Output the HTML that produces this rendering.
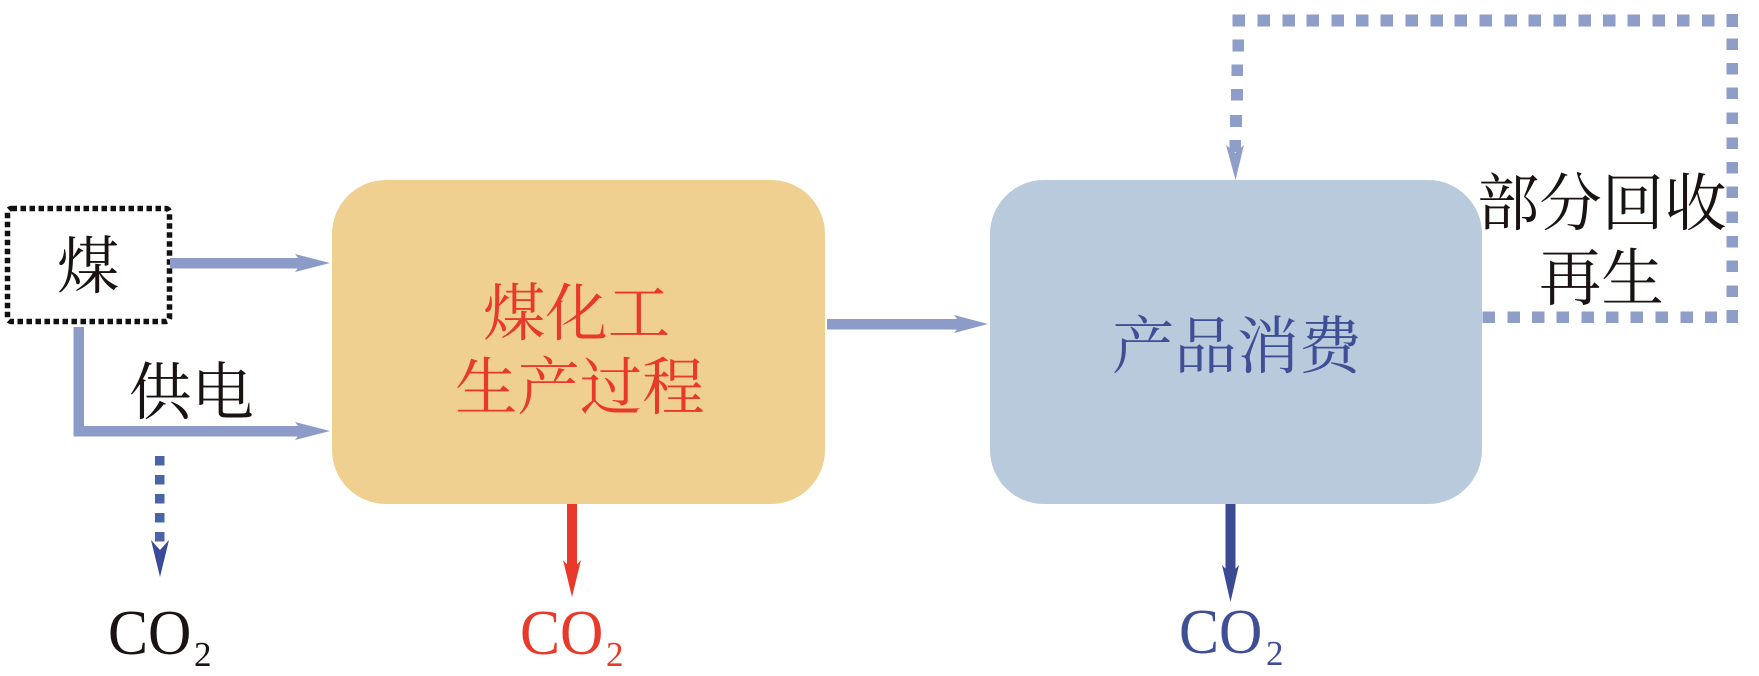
<!DOCTYPE html>
<html><head><meta charset="utf-8">
<style>
html,body{margin:0;padding:0;background:#fff;width:1759px;height:676px;overflow:hidden}
svg{display:block}
.c{font-family:"Liberation Serif","Noto Serif CJK SC",serif;font-size:62.4px}
.l{font-family:"Liberation Serif",serif;font-size:60px}
.s{font-family:"Liberation Serif",serif;font-size:35px}
</style></head><body>
<svg width="1759" height="676" viewBox="0 0 1759 676" xmlns="http://www.w3.org/2000/svg">
<rect width="1759" height="676" fill="#fff"/>
<!-- boxes -->
<rect x="332" y="180" width="493" height="324" rx="54" ry="54" fill="#efd091"/>
<rect x="990" y="180" width="492" height="324" rx="54" ry="54" fill="#b9cadd"/>
<!-- coal box -->
<rect x="7.5" y="208.5" width="162" height="113" rx="4" fill="none" stroke="#111" stroke-width="5.5" stroke-dasharray="5.5 3.5"/>
<!-- solid pale arrows -->
<g fill="#8c9bc8">
<rect x="170" y="258" width="132" height="10.5"/>
<polygon points="330,263 295,254 302,263 295,272"/>
<path d="M73.5 327H84V426H302V436.5H73.5Z"/>
<polygon points="330,431 295,422 302,431 295,440"/>
<rect x="827" y="319" width="135" height="10.5"/>
<polygon points="988,324 954,315 961,324 954,333"/>
</g>
<!-- dashed CO2 -->
<g fill="#4a64a8">
<rect x="155" y="456" width="9.5" height="9.5"/>
<rect x="155" y="475" width="9.5" height="9.5"/>
<rect x="155" y="494" width="9.5" height="9.5"/>
<rect x="155" y="513" width="9.5" height="9.5"/>
<rect x="155" y="532" width="9.5" height="9.5"/>
</g>
<polygon points="160,577 151,540 160,550 169,540" fill="#3c4a9a"/>
<!-- red + blue down arrows -->
<rect x="567" y="504" width="10" height="70" fill="#e8392b"/>
<polygon points="572,597 563,560 572,570 581,560" fill="#e8392b"/>
<rect x="1225.5" y="504" width="10" height="74" fill="#3c4a94"/>
<polygon points="1230.5,602 1222,565 1230.5,574 1239,565" fill="#3c4a94"/>
<!-- recycle dashed -->
<g fill="#8f9dc9">
<rect x="1232.5" y="14.500" width="12.500" height="12"/><rect x="1257.5" y="14.500" width="12.500" height="12"/><rect x="1282.5" y="14.500" width="12.500" height="12"/><rect x="1306.5" y="14.500" width="12.500" height="12"/><rect x="1331.5" y="14.500" width="12.500" height="12"/><rect x="1356" y="14.500" width="12.500" height="12"/><rect x="1380.5" y="14.500" width="12.500" height="12"/><rect x="1405.5" y="14.500" width="12.500" height="12"/><rect x="1430.5" y="14.500" width="12.500" height="12"/><rect x="1454.5" y="14.500" width="12.500" height="12"/><rect x="1479.5" y="14.500" width="12.500" height="12"/><rect x="1504.5" y="14.500" width="12.500" height="12"/><rect x="1528.5" y="14.500" width="12.500" height="12"/><rect x="1553.5" y="14.500" width="12.500" height="12"/><rect x="1578.5" y="14.500" width="12.500" height="12"/><rect x="1603" y="14.500" width="12.500" height="12"/><rect x="1627.5" y="14.500" width="12.500" height="12"/><rect x="1652.5" y="14.500" width="12.500" height="12"/><rect x="1677" y="14.500" width="12.500" height="12"/><rect x="1702" y="14.500" width="12.500" height="12"/>
<rect x="1726.5" y="14" width="11.500" height="13"/><rect x="1726.5" y="38.500" width="11.500" height="11.500"/><rect x="1726.5" y="63" width="11.500" height="11.500"/><rect x="1726.5" y="87.500" width="11.500" height="11.500"/><rect x="1726.5" y="112.500" width="11.500" height="11.500"/><rect x="1726.5" y="137.500" width="11.500" height="11.500"/><rect x="1726.5" y="162" width="11.500" height="11.500"/><rect x="1726.5" y="186.500" width="11.500" height="11.500"/><rect x="1726.5" y="211.500" width="11.500" height="11.500"/><rect x="1726.5" y="236" width="11.500" height="11.500"/><rect x="1726.5" y="260.500" width="11.500" height="11.500"/><rect x="1726.5" y="285.500" width="11.500" height="11.500"/><rect x="1726.5" y="310" width="11.500" height="13"/>
<rect x="1482.5" y="311.500" width="12.500" height="11.500"/><rect x="1507.5" y="311.500" width="12.500" height="11.500"/><rect x="1532" y="311.500" width="12.500" height="11.500"/><rect x="1556.5" y="311.500" width="12.500" height="11.500"/><rect x="1581.5" y="311.500" width="12.500" height="11.500"/><rect x="1606" y="311.500" width="12.500" height="11.500"/><rect x="1630.5" y="311.500" width="12.500" height="11.500"/><rect x="1655.5" y="311.500" width="12.500" height="11.500"/><rect x="1680.5" y="311.500" width="12.500" height="11.500"/><rect x="1705" y="311.500" width="12" height="11.500"/>
<rect x="1232.500" y="39.500" width="11.500" height="12"/><rect x="1231.500" y="64.500" width="11.500" height="11.500"/><rect x="1231" y="89" width="12" height="11.500"/><rect x="1230" y="115" width="12" height="12"/><rect x="1229.500" y="140" width="11.500" height="12"/>
<polygon points="1235.500,180 1226,145 1235.500,153 1244,145"/>
</g>
<!-- labels -->
<text class="c" x="57" y="288" fill="#1a1311">煤</text>
<text class="c" x="129" y="414" fill="#1a1311">供电</text>
<text class="c" x="483" y="335" fill="#e8392b">煤化工</text>
<text class="c" x="455" y="409" fill="#e8392b">生产过程</text>
<text class="c" x="1112" y="368" fill="#3f4f96">产品消费</text>
<text class="c" x="1477" y="225" fill="#1a1311">部分回收</text>
<text class="c" x="1539" y="300" fill="#1a1311">再生</text>
<text class="l" transform="translate(108 654) scale(1 1.06)" fill="#1a1311">CO</text><text class="s" x="194" y="666" fill="#1a1311">2</text>
<text class="l" transform="translate(520 654) scale(1 1.06)" fill="#e8392b">CO</text><text class="s" x="606" y="666" fill="#e8392b">2</text>
<text class="l" transform="translate(1179 653) scale(1 1.06)" fill="#3f4f96">CO</text><text class="s" x="1266" y="665" fill="#3f4f96">2</text>
</svg>
</body></html>
